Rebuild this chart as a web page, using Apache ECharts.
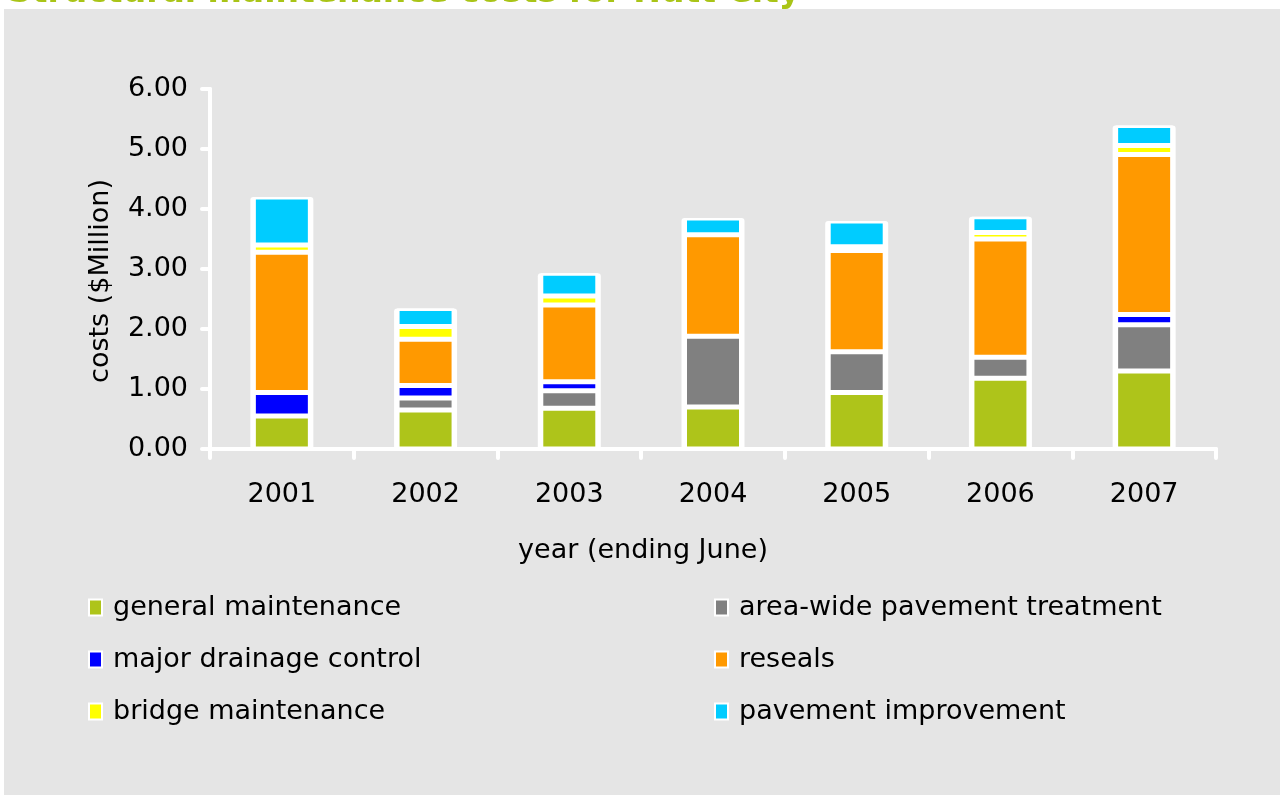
<!DOCTYPE html>
<html>
<head>
<meta charset="utf-8">
<script src="https://cdn.jsdelivr.net/npm/echarts@6/dist/echarts.min.js"></script>
<style>
  html, body { margin: 0; padding: 0; background: #ffffff; }
  #main { width: 1286px; height: 800px; }
</style>
</head>
<body>
<div id="main"></div>
<script>
// years (ending June)
var years = ['2001', '2002', '2003', '2004', '2005', '2006', '2007'];

// costs in $Million, stacked bottom-up
var generalMaintenance = [0.55, 0.65, 0.68, 0.70, 0.94, 1.18, 1.30];
var areaWidePavement   = [0.00, 0.20, 0.29, 1.18, 0.68, 0.35, 0.77];
var majorDrainage      = [0.39, 0.21, 0.15, 0.00, 0.00, 0.00, 0.17];
var reseals            = [2.34, 0.77, 1.28, 1.69, 1.69, 1.97, 2.67];
var bridgeMaintenance  = [0.12, 0.21, 0.15, 0.00, 0.06, 0.11, 0.15];
var pavementImprove    = [0.80, 0.30, 0.38, 0.28, 0.43, 0.26, 0.33];

var seriesNames = [
	'general maintenance',
	'area-wide pavement treatment',
	'major drainage control',
	'reseals',
	'bridge maintenance',
	'pavement improvement'
];
var seriesValues = [generalMaintenance, areaWidePavement, majorDrainage,
		reseals, bridgeMaintenance, pavementImprove];
var seriesColors = ['#aec41a', '#808080', '#0000ff', '#ff9900', '#ffff00', '#00ccff'];

var fontName = "'DejaVu Sans', Verdana, sans-serif";

function $each(arr, fn) {
	for (var i = 0; i < arr.length; i++) {
		fn(i, arr[i]);
	}
}

// white box behind each column, height = column total
var totals = [];
$each(years, function(i) {
	var sum = 0;
	for (var k = 0; k < seriesValues.length; k++) {
		sum += seriesValues[k][i];
	}
	totals.push(+sum.toFixed(2));
});

function get_series() {
	var list = [];
	// background column (white frame)
	list.push({
		name : 'total',
		type : 'bar',
		xAxisIndex : 1,
		barWidth : 63,
		z : 1,
		silent : true,
		itemStyle : {
			color : '#ffffff',
			borderRadius : [3, 3, 0, 0]
		},
		data : totals
	});
	$each(seriesNames, function(index, item) {
		list.push({
			name : item,
			type : 'bar',
			stack : 'costs',
			barWidth : 57,
			z : 2,
			itemStyle : {
				color : seriesColors[index],
				borderColor : '#ffffff',
				borderWidth : 2.5
			},
			data : seriesValues[index]
		});
	});
	return list;
}

var myChart = echarts.init(document.getElementById('main'));

var legendText = {
	fontFamily : fontName,
	fontSize : 27,
	color : '#000000',
	padding : [0, 0, 0, 6]
};

var option = {
	animation : false,
	backgroundColor : '#ffffff',
	title : {
		text : 'Structural maintenance costs for Hutt City',
		left : 3,
		top : -28,
		textStyle : {
			fontFamily : fontName,
			fontSize : 33,
			fontWeight : 'bold',
			color : '#a9c417'
		}
	},
	graphic : [{
		type : 'rect',
		z : -10,
		silent : true,
		shape : { x : 4, y : 9, width : 1276, height : 786 },
		style : { fill : '#e5e5e5' }
	}],
	legend : [{
		orient : 'vertical',
		left : 83,
		top : 589,
		itemWidth : 13,
		itemHeight : 16,
		itemGap : 25,
		icon : 'rect',
		itemStyle : { borderColor : '#ffffff', borderWidth : 2 },
		textStyle : legendText,
		data : [seriesNames[0], seriesNames[2], seriesNames[4]]
	}, {
		orient : 'vertical',
		left : 709,
		top : 589,
		itemWidth : 13,
		itemHeight : 16,
		itemGap : 25,
		icon : 'rect',
		itemStyle : { borderColor : '#ffffff', borderWidth : 2 },
		textStyle : legendText,
		data : [seriesNames[1], seriesNames[3], seriesNames[5]]
	}],
	grid : {
		left : 210,
		right : 70,
		top : 89,
		bottom : 351
	},
	xAxis : [{
		type : 'category',
		data : years,
		name : 'year (ending June)',
		nameLocation : 'middle',
		nameGap : 88,
		nameTextStyle : {
			fontFamily : fontName,
			fontSize : 27,
			color : '#000000',
			padding : [0, 140, 0, 0]
		},
		axisLine : { lineStyle : { color : '#ffffff', width : 4 } },
		axisTick : {
			show : true,
			alignWithLabel : false,
			length : 9,
			lineStyle : { color : '#ffffff', width : 4, cap : 'round' }
		},
		axisLabel : {
			margin : 32,
			fontFamily : fontName,
			fontSize : 27,
			color : '#000000'
		}
	}, {
		type : 'category',
		data : years,
		show : false
	}],
	yAxis : {
		type : 'value',
		min : 0,
		max : 6,
		interval : 1,
		name : 'costs ($Million)',
		nameLocation : 'middle',
		nameGap : 96,
		nameTextStyle : {
			fontFamily : fontName,
			fontSize : 27,
			color : '#000000',
			padding : [0, 24, 0, 0]
		},
		axisLine : { show : true, lineStyle : { color : '#ffffff', width : 4 } },
		axisTick : {
			show : true,
			length : 8,
			lineStyle : { color : '#ffffff', width : 4, cap : 'round' }
		},
		splitLine : { show : false },
		axisLabel : {
			margin : 22,
			padding : [9, 0, 0, 0],
			fontFamily : fontName,
			fontSize : 27,
			color : '#000000',
			formatter : function(v) {
				return v.toFixed(2);
			}
		}
	},
	series : get_series()
};

myChart.setOption(option);
</script>
</body>
</html>
